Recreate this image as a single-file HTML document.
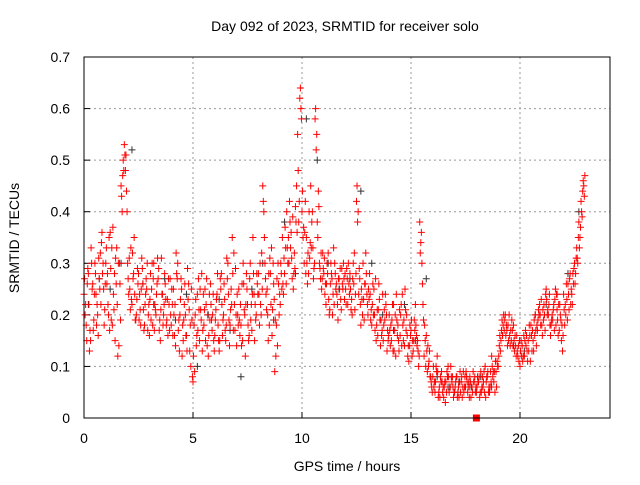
<!DOCTYPE html>
<html><head><meta charset="utf-8"><style>
body{margin:0;background:#fff}
svg text{font-family:"Liberation Sans",sans-serif;font-size:14px;fill:#000}
</style></head><body>
<svg id="chart" width="640" height="480" xmlns="http://www.w3.org/2000/svg">
<text x="345" y="31" text-anchor="middle">Day 092 of 2023, SRMTID for receiver solo</text>
<text x="347" y="471" text-anchor="middle">GPS time / hours</text>
<text transform="translate(19,238) rotate(-90)" text-anchor="middle">SRMTID / TECUs</text>
<g id="grid"></g><g id="ticks"></g><g id="marks"></g>
<rect x="84" y="57" width="526" height="361" fill="none" stroke="#000" stroke-width="1"/>
</svg>
<script>
const xTicks=[0,5,10,15,20];
const yTicks=[0,0.1,0.2,0.3,0.4,0.5,0.6,0.7];
const yTickLabels=["0","0.1","0.2","0.3","0.4","0.5","0.6","0.7"];
const redA=[.24,.18,.28,.15,.26,.30,.22,.27,.34,.25,
.30,.22,.36,.18,.28,.33,.14,.45,.50,.48,
.30,.25,.22,.35,.20,.28,.18,.26,.22,.30,
.16,.25,.30,.20,.27,.15,.24,.28,.19,.22,
.18,.25,.14,.30,.20,.12,.22,.16,.26,.10,
.07,.20,.24,.15,.28,.18,.22,.12,.26,.20,
.16,.24,.13,.28,.20,.15,.30,.18,.35,.22,
.14,.25,.18,.30,.12,.22,.27,.17,.24,.20,
.28,.22,.45,.30,.25,.18,.33,.26,.12,.30,
.22,.35,.28,.40,.30,.36,.25,.41,.55,.62,
.40,.30,.35,.28,.45,.33,.58,.38,.30,.25,
.28,.22,.32,.26,.20,.30,.24,.27,.21,.30,
.25,.22,.28,.20,.32,.42,.24,.18,.30,.26,
.22,.28,.18,.25,.15,.21,.14,.24,.19,.13,
.20,.15,.22,.12,.18,.16,.24,.14,.20,.11,
.17,.13,.22,.15,.38,.30,.12,.16,.10,.08,
.08,.05,.12,.06,.09,.04,.07,.10,.06,.08,
.05,.08,.04,.07,.09,.06,.05,.08,.06,.07,
.05,.07,.09,.06,.10,.08,.05,.12,.07,.09,
.10,.13,.16,.19,.17,.20,.15,.18,.14,.12,
.10,.14,.12,.16,.13,.18,.15,.20,.17,.22,
.18,.22,.25,.20,.16,.19,.23,.21,.17,.15,
.24,.20,.26,.28,.22,.30,.33,.38,.42,.46];
const redB=[.20,.26,.13,.30,.19,.24,.16,.32,.28,.21,
.26,.35,.19,.24,.31,.12,.26,.40,.53,.44,
.24,.33,.27,.19,.29,.24,.31,.17,.27,.20,
.28,.18,.22,.26,.17,.31,.20,.23,.16,.27,
.22,.16,.28,.19,.27,.15,.20,.29,.13,.19,
.18,.14,.27,.21,.17,.25,.14,.24,.19,.15,
.21,.18,.27,.16,.23,.31,.19,.25,.17,.29,
.20,.16,.26,.21,.28,.15,.19,.35,.22,.26,
.18,.32,.40,.24,.15,.28,.21,.09,.27,.20,
.28,.24,.33,.30,.38,.27,.32,.45,.38,.60,
.35,.42,.26,.31,.38,.29,.52,.44,.27,.32,
.24,.30,.20,.28,.33,.25,.19,.29,.26,.23,
.29,.26,.21,.30,.24,.38,.27,.23,.19,.28,
.25,.19,.26,.17,.21,.23,.16,.18,.22,.15,
.14,.22,.17,.19,.13,.22,.15,.21,.12,.18,
.12,.19,.16,.10,.34,.22,.15,.09,.13,.06,
.06,.10,.04,.08,.05,.07,.09,.05,.08,.04,
.07,.05,.09,.04,.06,.08,.07,.04,.09,.05,
.08,.04,.06,.09,.07,.05,.09,.08,.05,.11,
.14,.17,.20,.16,.18,.14,.17,.13,.16,.11,
.15,.12,.17,.11,.16,.13,.19,.14,.21,.18,
.21,.17,.20,.24,.19,.22,.18,.16,.20,.13,
.18,.23,.21,.25,.26,.28,.30,.35,.39,.43];
const redC=[.27,.15,.22,.33,.17,.28,.20,.25,.36,.18,
.33,.20,.29,.37,.15,.22,.30,.43,.48,.51,
.27,.21,.32,.24,.23,.19,.25,.21,.24,.17,
.23,.30,.17,.24,.29,.21,.18,.26,.23,.17,
.25,.20,.32,.17,.23,.18,.26,.13,.21,.25,
.12,.23,.17,.25,.13,.21,.27,.16,.22,.24,
.19,.28,.15,.22,.26,.18,.24,.21,.28,.17,
.24,.19,.14,.26,.22,.18,.30,.24,.15,.28,
.24,.20,.42,.27,.20,.31,.16,.23,.18,.26,
.30,.26,.37,.33,.42,.31,.28,.38,.48,.64,
.44,.36,.30,.40,.33,.27,.60,.35,.29,.27,
.31,.26,.23,.30,.24,.28,.22,.25,.29,.27,
.22,.30,.25,.27,.21,.45,.29,.25,.23,.32,
.20,.24,.22,.20,.18,.26,.19,.15,.24,.17,
.17,.19,.13,.24,.15,.20,.18,.25,.16,.14,
.19,.15,.18,.13,.32,.26,.18,.13,.11,.07,
.10,.07,.09,.04,.07,.06,.05,.08,.10,.06,
.06,.04,.07,.08,.05,.09,.06,.07,.05,.08,
.06,.08,.05,.07,.04,.09,.06,.10,.09,.06,
.12,.15,.18,.20,.14,.16,.19,.15,.12,.14,
.13,.11,.15,.13,.18,.16,.13,.17,.19,.20,
.16,.20,.23,.22,.18,.21,.25,.19,.22,.18,
.21,.26,.24,.22,.28,.26,.31,.33,.40,.45];
const redD=[.22,.29,.17,.25,.24,.18,.31,.22,.30,.26,
.28,.17,.33,.21,.26,.30,.19,.47,.51,.40,
.31,.23,.28,.19,.26,.21,.29,.18,.25,.22,
.19,.27,.21,.31,.19,.24,.22,.18,.27,.20,
.16,.22,.27,.13,.25,.19,.16,.23,.18,.08,
.09,.16,.21,.19,.24,.15,.20,.19,.17,.13,
.23,.15,.25,.19,.17,.27,.14,.22,.32,.20,
.18,.22,.15,.20,.25,.16,.22,.28,.19,.24,
.30,.25,.35,.21,.28,.22,.30,.19,.14,.24,
.25,.31,.26,.35,.33,.39,.29,.36,.42,.58,
.37,.28,.32,.34,.40,.30,.55,.41,.32,.29,
.26,.28,.21,.27,.22,.26,.27,.23,.25,.28,
.27,.24,.23,.26,.28,.40,.22,.20,.26,.24,
.23,.21,.20,.27,.16,.19,.17,.21,.20,.16,
.18,.13,.20,.16,.21,.14,.19,.17,.14,.16,
.15,.17,.14,.12,.36,.19,.10,.14,.08,.05,
.07,.09,.05,.07,.06,.03,.08,.06,.07,.05,
.08,.06,.05,.06,.08,.07,.04,.06,.07,.06,
.07,.05,.08,.05,.08,.06,.07,.09,.11,.10,
.16,.19,.17,.18,.15,.17,.14,.16,.13,.15,
.12,.16,.14,.15,.11,.17,.16,.18,.20,.23,
.19,.24,.21,.18,.20,.17,.24,.22,.19,.16,
.22,.19,.27,.24,.29,.31,.35,.37,.44,.47];
const blackVals=[.22,.27,.25,.30,.52,.26,.22,.27,.19,.24,.10,.20,.23,.17,.08,.25,.30,.19,.38,.28,.58,.50,.30,.25,.27,.44,.30,.20,.17,.22,.15,.27,.08,.06,.07,.06,.08,.06,.16,.14,.13,.20,.22,.24,.28,.40];
const squareX=[18], squareY=[0];
const NS="http://www.w3.org/2000/svg";
const X=h=>84+h*21.8, Y=v=>418-v*515.7;
const grid=document.getElementById('grid'),ticks=document.getElementById('ticks'),marks=document.getElementById('marks');
function mk(tag,attrs,parent){const e=document.createElementNS(NS,tag);for(const k in attrs)e.setAttribute(k,attrs[k]);parent.appendChild(e);return e;}
xTicks.forEach(t=>{
 if(t>0){const g=mk('line',{x1:X(t),x2:X(t),y1:57,y2:418,stroke:'#999','stroke-dasharray':'2,3'},grid);
 
 }
 const l=mk('text',{x:X(t),y:443,'text-anchor':'middle'},ticks);l.textContent=t;
 
 
 mk('line',{x1:X(t),x2:X(t),y1:418,y2:412,stroke:'#000'},ticks);
});
yTicks.forEach((t,i)=>{
 if(t>0&&t<0.7){const g=mk('line',{x1:84,x2:610,y1:Y(t),y2:Y(t),stroke:'#999','stroke-dasharray':'2,3'},grid);
 
 }
 const l=mk('text',{x:70,y:Y(t)+5,'text-anchor':'end'},ticks);l.textContent=yTickLabels[i];
 
 
 mk('line',{x1:84,x2:90,y1:Y(t),y2:Y(t),stroke:'#000'},ticks);
});
function plus(x,y,c,name){const p=mk('path',{d:`M${x-3.5},${y}h7M${x},${y-3.5}v7`,stroke:c,'stroke-width':1,fill:'none'},marks);
 
 }
blackVals.forEach((v,i)=>plus(X(i*0.5+0.2),Y(v),'#333','black-point'));
redA.forEach((v,i)=>plus(X(i*0.1),Y(v),'#f00','red-point'));
redC.forEach((v,i)=>plus(X(i*0.1+0.025),Y(v),'#f00','red-point'));
redB.forEach((v,i)=>plus(X(i*0.1+0.05),Y(v),'#f00','red-point'));
redD.forEach((v,i)=>plus(X(i*0.1+0.075),Y(v),'#f00','red-point'));
squareX.forEach((h,i)=>{const s=mk('rect',{x:X(h)-3.5,y:Y(squareY[i])-3.5,width:7,height:7,fill:'#f00'},marks);
 
 });
</script>
</body></html>
